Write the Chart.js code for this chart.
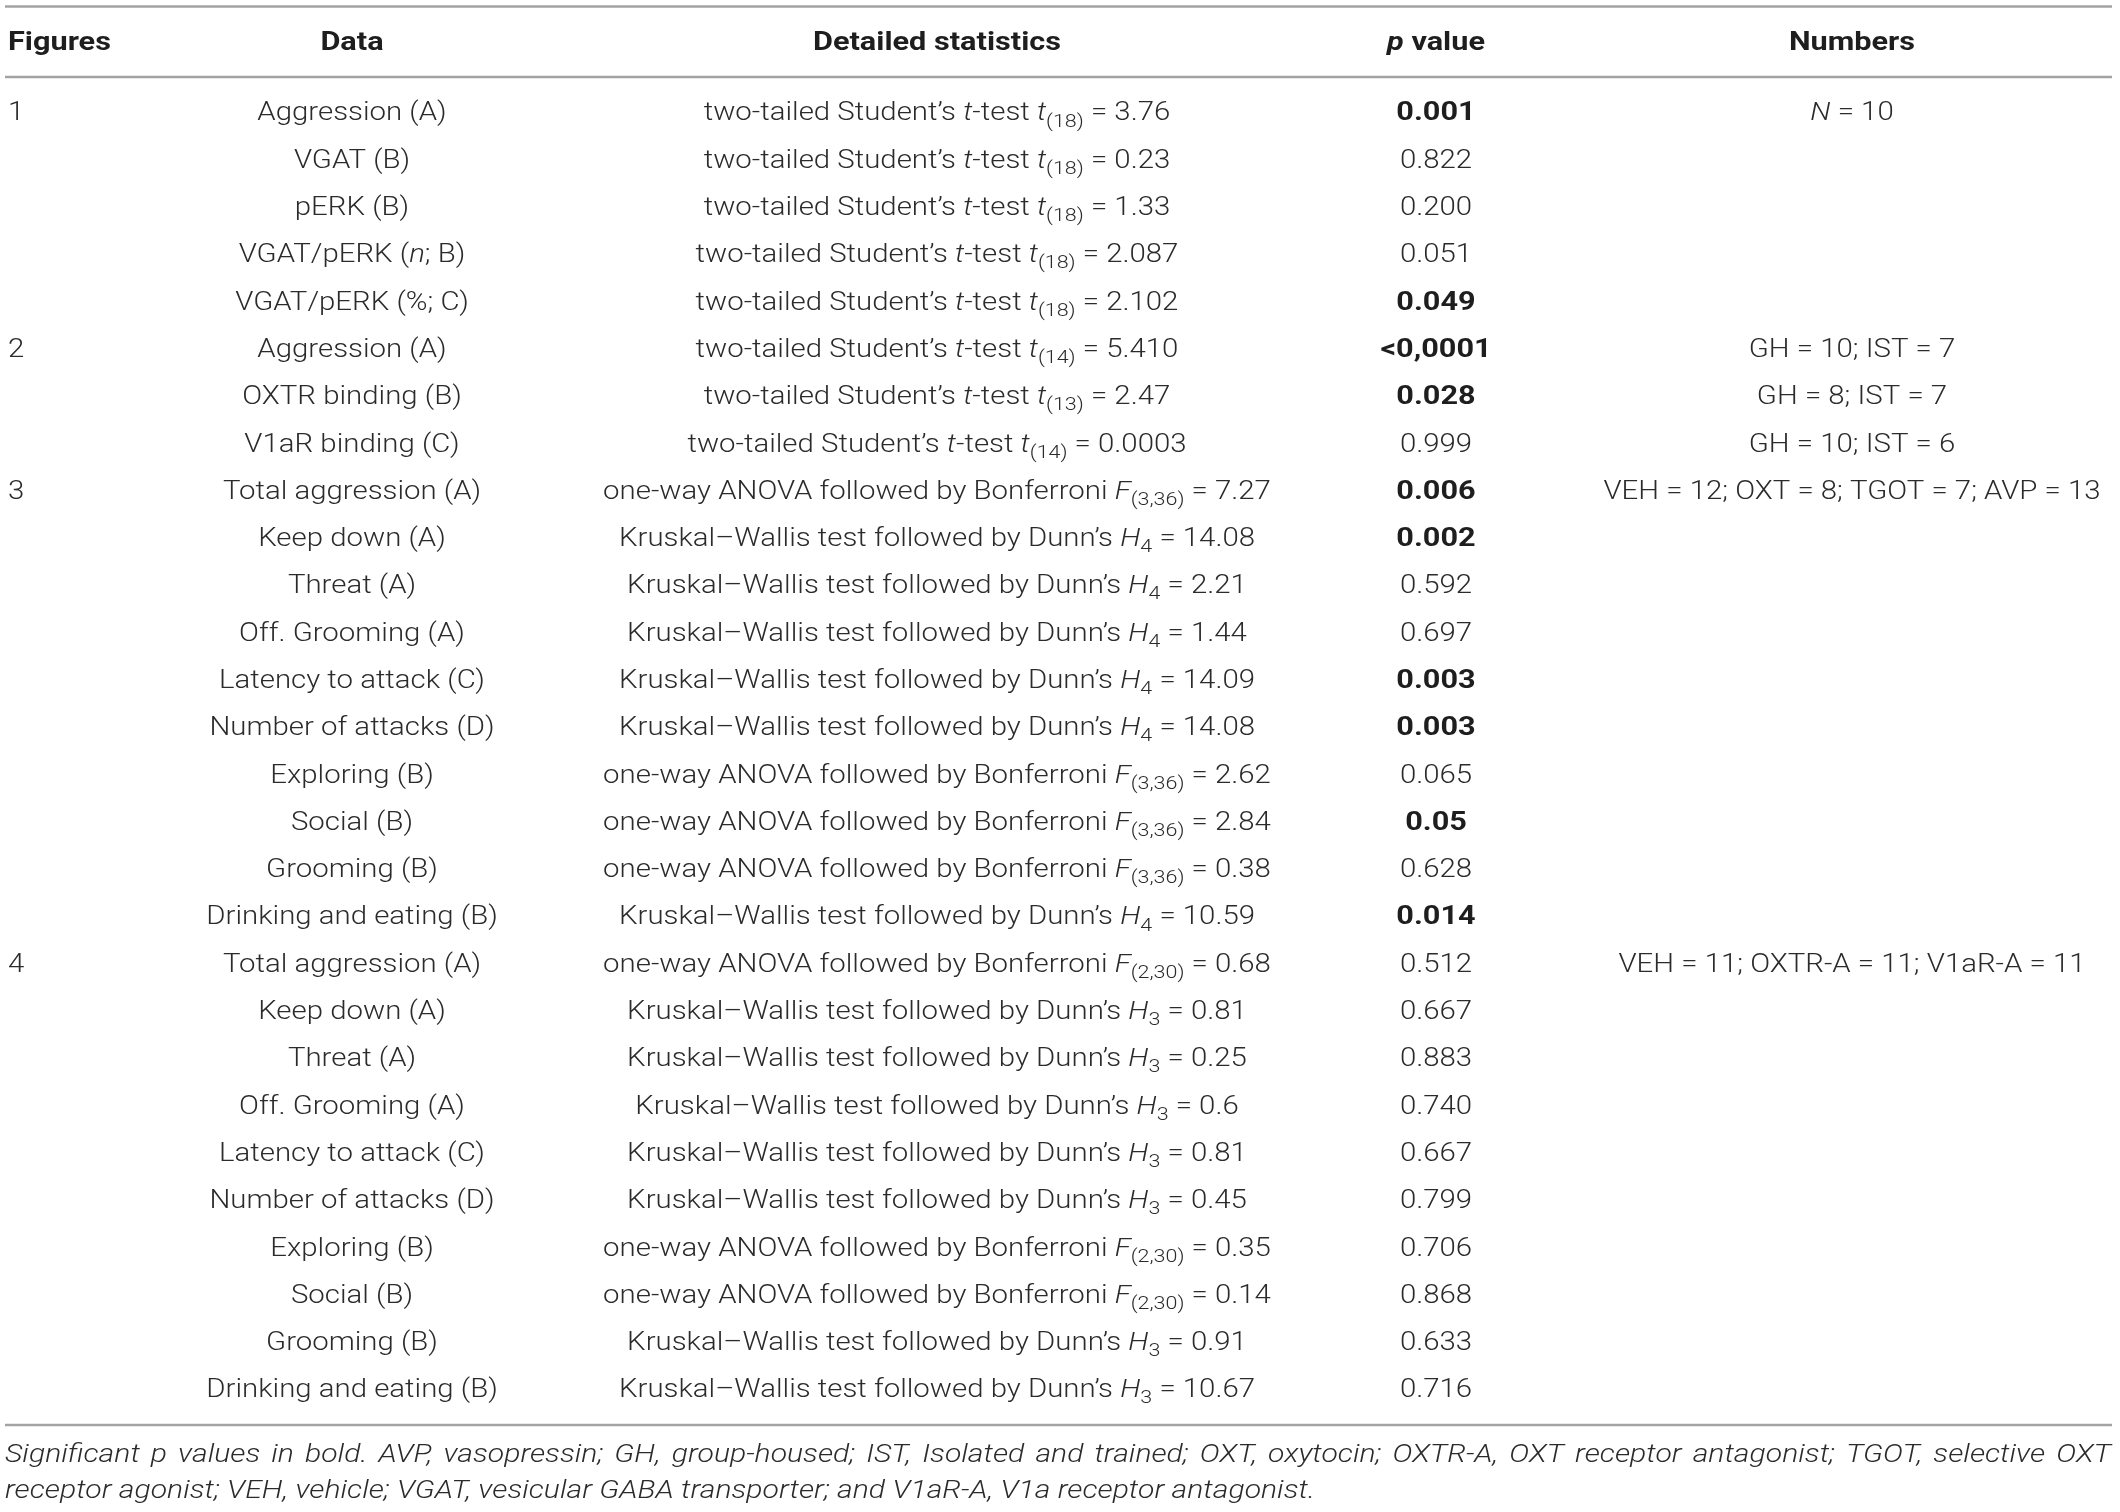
<!DOCTYPE html>
<html>
<head>
<meta charset="utf-8">
<script src="https://cdn.jsdelivr.net/npm/chart.js@4/dist/chart.umd.min.js"></script>
<style>
  html, body { margin: 0; padding: 0; background: #fff; }
  #wrap { width: 2120px; height: 1512px; position: relative; }
</style>
</head>
<body>
<div id="wrap"><canvas id="tabla"></canvas></div>
<script>
// table content, one array per column
// markup: *x* = italic, ~x~ = subscript
const headers = ['Figures', 'Data', 'Detailed statistics', '*p* value', 'Numbers'];

const figures = ['1', '', '', '', '', '2', '', '', '3', '', '', '', '', '', '', '', '', '',
  '4', '', '', '', '', '', '', '', '', ''];

const dataLabels = [
  'Aggression (A)', 'VGAT (B)', 'pERK (B)', 'VGAT/pERK (*n*; B)', 'VGAT/pERK (%; C)',
  'Aggression (A)', 'OXTR binding (B)', 'V1aR binding (C)',
  'Total aggression (A)', 'Keep down (A)', 'Threat (A)', 'Off. Grooming (A)', 'Latency to attack (C)',
  'Number of attacks (D)', 'Exploring (B)', 'Social (B)', 'Grooming (B)', 'Drinking and eating (B)',
  'Total aggression (A)', 'Keep down (A)', 'Threat (A)', 'Off. Grooming (A)', 'Latency to attack (C)',
  'Number of attacks (D)', 'Exploring (B)', 'Social (B)', 'Grooming (B)', 'Drinking and eating (B)'
];

const TT = 'two-tailed Student\u2019s *t*-test *t*';
const AN = 'one-way ANOVA followed by Bonferroni *F*';
const KW = 'Kruskal\u2013Wallis test followed by Dunn\u2019s *H*';

const statistics = [
  TT + '~(18)~ = 3.76', TT + '~(18)~ = 0.23', TT + '~(18)~ = 1.33', TT + '~(18)~ = 2.087', TT + '~(18)~ = 2.102',
  TT + '~(14)~ = 5.410', TT + '~(13)~ = 2.47', TT + '~(14)~ = 0.0003',
  AN + '~(3,36)~ = 7.27', KW + '~4~ = 14.08', KW + '~4~ = 2.21', KW + '~4~ = 1.44', KW + '~4~ = 14.09',
  KW + '~4~ = 14.08', AN + '~(3,36)~ = 2.62', AN + '~(3,36)~ = 2.84', AN + '~(3,36)~ = 0.38', KW + '~4~ = 10.59',
  AN + '~(2,30)~ = 0.68', KW + '~3~ = 0.81', KW + '~3~ = 0.25', KW + '~3~ = 0.6', KW + '~3~ = 0.81',
  KW + '~3~ = 0.45', AN + '~(2,30)~ = 0.35', AN + '~(2,30)~ = 0.14', KW + '~3~ = 0.91', KW + '~3~ = 10.67'
];

const pValues = ['0.001', '0.822', '0.200', '0.051', '0.049',
  '<0,0001', '0.028', '0.999',
  '0.006', '0.002', '0.592', '0.697', '0.003', '0.003', '0.065', '0.05', '0.628', '0.014',
  '0.512', '0.667', '0.883', '0.740', '0.667', '0.799', '0.706', '0.868', '0.633', '0.716'];

const significant = [true, false, false, false, true,
  true, true, false,
  true, true, false, false, true, true, false, true, false, true,
  false, false, false, false, false, false, false, false, false, false];

const numbers = ['*N* = 10', '', '', '', '', 'GH = 10; IST = 7', 'GH = 8; IST = 7', 'GH = 10; IST = 6',
  'VEH = 12; OXT = 8; TGOT = 7; AVP = 13', '', '', '', '', '', '', '', '', '',
  'VEH = 11; OXTR-A = 11; V1aR-A = 11', '', '', '', '', '', '', '', '', ''];

const footnote = [
  'Significant p values in bold. AVP, vasopressin; GH, group-housed; IST, Isolated and trained; OXT, oxytocin; OXTR-A, OXT receptor antagonist; TGOT, selective OXT',
  'receptor agonist; VEH, vehicle; VGAT, vesicular GABA transporter; and V1aR-A, V1a receptor antagonist.'
];

// layout (in scale units)
const colX = [8, 352, 937, 1436, 1852];
const colAlign = ['left', 'center', 'center', 'center', 'center'];
const headerRow = -1.5;
const rulesY = [-2.27, -0.78, 27.72];
const footRows = [28.37, 29.13];

const FAM = 'Roboto, "Liberation Sans", sans-serif';
const SIZE = 26;

function parse(txt) {
  const out = [];
  let cur = '', it = false, sub = false;
  for (const ch of txt) {
    if (ch === '*' || ch === '~') {
      if (cur) out.push({ t: cur, it, sub });
      cur = '';
      if (ch === '*') it = !it; else sub = !sub;
    } else cur += ch;
  }
  if (cur) out.push({ t: cur, it, sub });
  return out;
}

function fontOf(seg, weight, size) {
  const s = seg.sub ? Math.round(size * 0.74) : size;
  return (seg.it ? 'italic ' : '') + weight + ' ' + s + 'px ' + FAM;
}

// draws a run of styled pieces, stretched horizontally by hs
function drawRich(ctx, txt, x, y, align, weight, size, color, hs) {
  const segs = parse(txt);
  let w = 0;
  segs.forEach(s => { ctx.font = fontOf(s, weight, size); s.w = ctx.measureText(s.t).width * hs; w += s.w; });
  let sx = align === 'center' ? x - w / 2 : x;
  ctx.fillStyle = color;
  ctx.textAlign = 'left';
  ctx.textBaseline = 'middle';
  segs.forEach(s => {
    ctx.font = fontOf(s, weight, size);
    ctx.save();
    ctx.translate(sx, s.sub ? y + size * 0.3 : y);
    ctx.scale(hs, 1);
    ctx.fillText(s.t, 0, 0);
    ctx.restore();
    sx += s.w;
  });
}

function drawLine(ctx, txt, x, y, hs, width) {
  const words = txt.split(' ');
  let w = 0;
  words.forEach(wd => { w += ctx.measureText(wd).width * hs; });
  const gap = width ? (width - w) / (words.length - 1) : ctx.measureText(' ').width * hs;
  let sx = x;
  words.forEach(wd => {
    ctx.save();
    ctx.translate(sx, y);
    ctx.scale(hs, 1);
    ctx.fillText(wd, 0, 0);
    ctx.restore();
    sx += ctx.measureText(wd).width * hs + gap;
  });
}

const columns = [figures, dataLabels, statistics, pValues, numbers];
const datasets = [];

rulesY.forEach(ry => {
  datasets.push({
    type: 'line', data: [{ x: 5, y: ry }, { x: 2112, y: ry }],
    borderColor: '#a3a3a3', borderWidth: 2.5, pointRadius: 0, showLine: true
  });
});

datasets.push({
  data: headers.map((h, c) => ({ x: colX[c], y: headerRow })),
  pointRadius: 0, cellText: headers, header: true
});

columns.forEach((col, c) => {
  datasets.push({
    data: col.map((t, r) => ({ x: colX[c], y: r })),
    pointRadius: 0, cellText: col, col: c
  });
});

datasets.push({
  data: footRows.map(fy => ({ x: 5, y: fy })),
  pointRadius: 0, cellText: footnote, foot: true
});

const textPlugin = {
  id: 'cellText',
  afterDatasetsDraw(chart) {
    const ctx = chart.ctx;
    ctx.save();
    chart.data.datasets.forEach((ds, i) => {
      if (!ds.cellText) return;
      const meta = chart.getDatasetMeta(i);
      meta.data.forEach((pt, j) => {
        const txt = ds.cellText[j];
        if (!txt) return;
        if (ds.header) {
          drawRich(ctx, txt, pt.x, pt.y, colAlign[j], '700', SIZE, '#1e1e1e', 1.18);
        } else if (ds.foot) {
          ctx.font = 'italic 300 26px ' + FAM;
          ctx.fillStyle = '#2b2b2b';
          ctx.textAlign = 'left';
          ctx.textBaseline = 'middle';
          drawLine(ctx, txt, pt.x, pt.y, 1.16, j === 0 ? 2106 : 0);
        } else {
          const bold = ds.col === 3 && significant[j];
          drawRich(ctx, txt, pt.x, pt.y, colAlign[ds.col], bold ? '700' : '300', SIZE,
            bold ? '#1e1e1e' : '#2b2b2b', bold ? 1.18 : 1.13);
        }
      });
    });
    ctx.restore();
  }
};

new Chart(document.getElementById('tabla'), {
  type: 'scatter',
  data: { datasets },
  options: {
    responsive: true,
    maintainAspectRatio: false,
    animation: false,
    layout: { padding: 0 },
    plugins: { legend: { display: false }, tooltip: { enabled: false } },
    scales: {
      x: { type: 'linear', display: false, min: 0, max: 2120 },
      y: { type: 'linear', display: false, reverse: true, min: -2.41, max: 29.56 }
    }
  },
  plugins: [textPlugin]
});
</script>
</body>
</html>
